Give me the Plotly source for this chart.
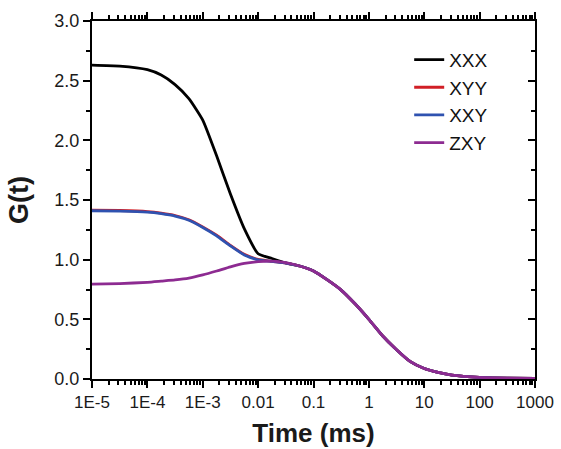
import plotly.graph_objects as go

# Time axis (ms), log-spaced sample points
time_ms = [1e-5, 3.16e-5, 1e-4, 1.78e-4, 3.16e-4, 5.62e-4, 1e-3, 1.78e-3, 3.16e-3,
           5.62e-3, 1e-2, 1.78e-2, 3.16e-2, 5.62e-2, 0.1, 0.178, 0.316, 0.562,
           1.0, 1.78, 3.16, 5.62, 10.0, 17.8, 31.6, 100.0, 316.0, 1000.0]

tail = [0.905, 0.83, 0.745, 0.63, 0.50, 0.36, 0.245, 0.145, 0.088, 0.055, 0.033,
        0.014, 0.008, 0.005]

g_xxx = [2.63, 2.622, 2.592, 2.547, 2.467, 2.35, 2.17, 1.87, 1.55, 1.26, 1.05,
         1.01, 0.973, 0.947] + tail
g_xyy = [1.415, 1.412, 1.403, 1.39, 1.37, 1.335, 1.275, 1.205, 1.12, 1.045,
         1.002, 0.986, 0.972, 0.947] + tail
g_xxy = [1.41, 1.407, 1.398, 1.385, 1.365, 1.33, 1.27, 1.20, 1.115, 1.04,
         0.999, 0.985, 0.972, 0.947] + tail
g_zxy = [0.795, 0.80, 0.81, 0.82, 0.83, 0.845, 0.872, 0.905, 0.94, 0.968,
         0.983, 0.987, 0.975, 0.947] + tail

series = [("XXX", g_xxx, "#000000"),
          ("XYY", g_xyy, "#d11f26"),
          ("XXY", g_xxy, "#2f52b0"),
          ("ZXY", g_zxy, "#8d2b91")]

x_tickvals = [1e-5, 1e-4, 1e-3, 1e-2, 0.1, 1, 10, 100, 1000]
x_ticktext = ["1E-5", "1E-4", "1E-3", "0.01", "0.1", "1", "10", "100", "1000"]
x_minor = [m * 10.0 ** e for e in range(-5, 3) for m in range(2, 10)]

font_family = "Liberation Sans, Arial, sans-serif"

fig = go.Figure()
for name, vals, color in series:
    fig.add_trace(go.Scatter(x=time_ms, y=vals, mode="lines", name=name,
                             line=dict(color=color, width=2.8, shape="spline",
                                       smoothing=0.5)))

# invisible trace to carry the right-hand axis
fig.add_trace(go.Scatter(x=[1e-5], y=[0], yaxis="y2", mode="markers",
                         marker=dict(opacity=0), showlegend=False,
                         hoverinfo="skip"))

fig.update_layout(
    width=561, height=449,
    margin=dict(l=92, r=26, t=21, b=70, autoexpand=False),
    paper_bgcolor="white", plot_bgcolor="white",
    font=dict(family=font_family, size=17, color="#1a1a1a"),
    showlegend=True,
    legend=dict(x=0.716, y=0.945, xanchor="left", yanchor="top",
                font=dict(size=19, family=font_family, color="#111111"),
                bgcolor="rgba(0,0,0,0)", borderwidth=0,
                tracegroupgap=0),
    xaxis=dict(type="log", range=[-5, 3], tickmode="array",
               tickvals=x_tickvals, ticktext=x_ticktext, automargin=False,
               ticks="outside", ticklen=7, tickwidth=2, tickcolor="#000",
               showline=True, linecolor="#000", linewidth=2, mirror="ticks",
               showgrid=False, zeroline=False,
               tickfont=dict(size=17),
               minor=dict(tickvals=x_minor, ticks="outside", ticklen=4,
                          tickwidth=1.5, tickcolor="#000", showgrid=False),
               title=dict(text="<b>Time (ms)</b>", font=dict(size=26),
                          standoff=12)),
    yaxis=dict(range=[0, 3], dtick=0.5, tick0=0, tickformat=".1f",
               automargin=False,
               ticks="outside", ticklen=7, tickwidth=2, tickcolor="#000",
               showline=True, linecolor="#000", linewidth=2, mirror=True,
               showgrid=False, zeroline=False,
               tickfont=dict(size=18),
               minor=dict(dtick=0.25, ticks="outside", ticklen=4,
                          tickwidth=1.5, tickcolor="#000", showgrid=False),
               title=dict(text="<b>G(t)</b>", font=dict(size=27),
                          standoff=18)),
    yaxis2=dict(range=[0, 3], dtick=0.5, tick0=0, overlaying="y", side="right",
                automargin=False,
                ticks="inside", ticklen=7, tickwidth=2, tickcolor="#000",
                showticklabels=False, showline=False, showgrid=False,
                zeroline=False,
                minor=dict(dtick=0.25, ticks="inside", ticklen=4,
                           tickwidth=1.5, tickcolor="#000", showgrid=False)),
)

fig.write_html("out.html")
